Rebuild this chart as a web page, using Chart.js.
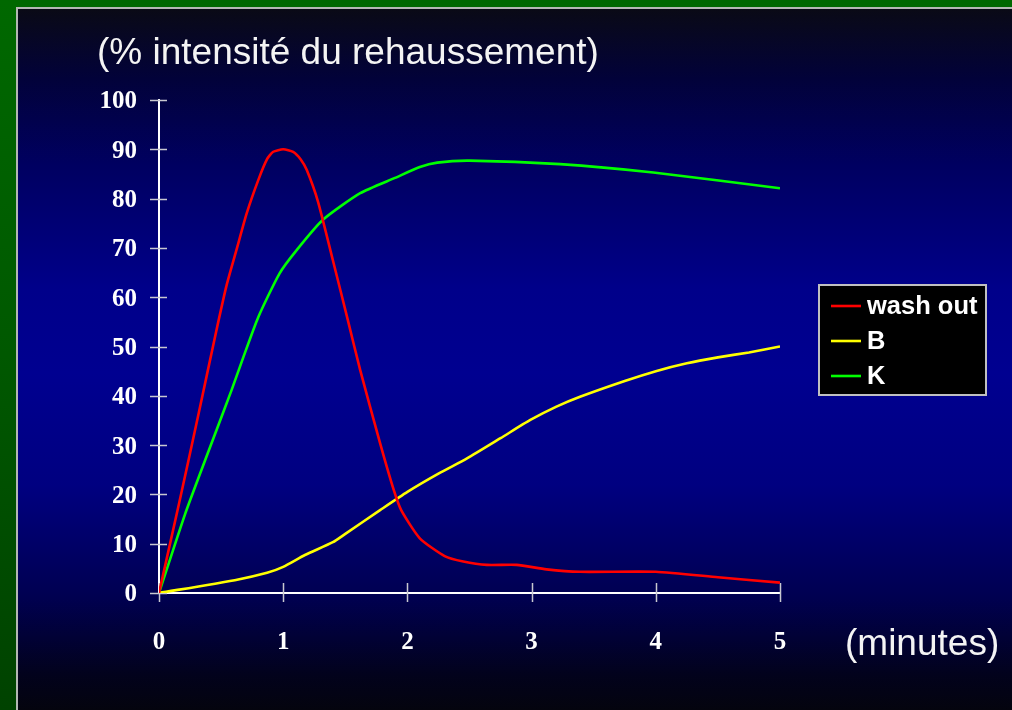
<!DOCTYPE html>
<html>
<head>
<meta charset="utf-8">
<script src="https://cdn.jsdelivr.net/npm/chart.js@4/dist/chart.umd.min.js"></script>
<style>
  html, body { margin: 0; padding: 0; }
  body {
    width: 1012px; height: 710px; overflow: hidden; position: relative;
    background: linear-gradient(to bottom, #006800 0%, #005800 50%, #004200 100%);
  }
  #panel {
    position: absolute; left: 16px; top: 7px; right: 0; bottom: 0;
    border-left: 2px solid #b4b8b4; border-top: 2px solid #b4b8b4;
    background: linear-gradient(to bottom,
      #0a0a16 0%, #02023a 10%, #000060 22%, #00008a 40%, #000090 52%,
      #000080 68%, #000050 84%, #02021c 95%, #04040e 100%);
  }
  #chart { position: absolute; left: 0; top: 0; }
</style>
</head>
<body>
<div id="panel"></div>
<canvas id="chart" width="1012" height="710"></canvas>
<script>
// Enhancement curves: time in minutes, enhancement intensity in %
const washOutMin = [0, 0.16, 0.32, 0.46, 0.545, 0.626, 0.706, 0.8, 0.87, 0.92, 1.0, 1.08, 1.14, 1.19, 1.28, 1.4, 1.52, 1.62, 1.78, 1.89, 1.95, 2.1, 2.3, 2.45, 2.64, 2.88, 3.12, 3.39, 4.0, 4.5, 5.0];
const washOutPct = [0, 18, 36.5, 53, 62.5, 69.8, 77, 83.8, 88, 89.5, 90, 89.5, 88, 85.8, 79.4, 67.5, 55.4, 45.2, 30.4, 20.9, 16.8, 11.1, 7.5, 6.4, 5.7, 5.7, 4.8, 4.3, 4.3, 3.2, 2.1];

const bMin = [0, 0.61, 0.87, 1.0, 1.175, 1.4, 1.5, 1.78, 2.0, 2.25, 2.48, 2.75, 2.99, 3.2, 3.39, 3.75, 4.0, 4.25, 4.5, 4.75, 5.0];
const bPct = [0, 2.6, 4.1, 5.3, 7.7, 10.3, 12, 16.8, 20.5, 24.2, 27.3, 31.4, 35.1, 37.8, 39.8, 43, 45, 46.6, 47.8, 48.8, 50];

const kMin = [0, 0.21, 0.41, 0.585, 0.68, 0.8, 0.97, 1.11, 1.32, 1.62, 1.9, 2.1, 2.24, 2.5, 3.23, 3.98, 5.0];
const kPct = [0, 16, 29.5, 41.2, 47.9, 56, 64.8, 69.6, 75.7, 81.1, 84.2, 86.4, 87.3, 87.7, 87, 85.3, 82.1];

const seriesNames = ['wash out', 'B', 'K'];
const seriesColors = ['#ff0000', '#ffff00', '#00ff00'];
const xTicks = [0, 1, 2, 3, 4, 5];
const yTicks = [0, 10, 20, 30, 40, 50, 60, 70, 80, 90, 100];

const yTitle = '(% intensité du rehaussement)';
const xTitle = '(minutes)';

const toPoints = (xs, ys) => xs.map((x, i) => ({ x: x, y: ys[i] }));

const seriesData = [
  toPoints(washOutMin, washOutPct),
  toPoints(bMin, bPct),
  toPoints(kMin, kPct)
];

const datasets = seriesNames.map((name, i) => ({
  label: name,
  data: seriesData[i],
  borderColor: seriesColors[i],
  backgroundColor: seriesColors[i],
  borderWidth: 2.6,
  pointRadius: 0,
  fill: false,
  tension: 0.2
}));

// Tick marks that cross the axis lines
const crossTicks = {
  id: 'crossTicks',
  beforeDatasetsDraw(chart) {
    const ctx = chart.ctx;
    const xs = chart.scales.x, ys = chart.scales.y;
    ctx.save();
    ctx.strokeStyle = '#c8c8d0';
    ctx.lineWidth = 1.5;
    ctx.beginPath();
    yTicks.forEach(v => {
      const py = Math.round(ys.getPixelForValue(v)) + 0.5;
      ctx.moveTo(xs.left - 9, py);
      ctx.lineTo(xs.left + 8, py);
    });
    xTicks.forEach(v => {
      const px = Math.round(xs.getPixelForValue(v)) + 0.5;
      ctx.moveTo(px, ys.bottom - 10);
      ctx.lineTo(px, ys.bottom + 9);
    });
    ctx.stroke();
    ctx.restore();
  }
};

// Axis titles and boxed legend
const annotations = {
  id: 'annotations',
  afterDraw(chart) {
    const ctx = chart.ctx;
    ctx.save();
    ctx.fillStyle = '#f4f4f4';
    ctx.font = '37px "Liberation Sans", Arial, sans-serif';
    ctx.textBaseline = 'alphabetic';
    ctx.textAlign = 'left';
    ctx.fillText(yTitle, 97, 64);
    ctx.fillText(xTitle, 845, 655);

    // legend box
    const bx = 819, by = 285, bw = 167, bh = 110;
    ctx.fillStyle = '#000000';
    ctx.fillRect(bx, by, bw, bh);
    ctx.strokeStyle = '#c0c0c0';
    ctx.lineWidth = 2;
    ctx.strokeRect(bx, by, bw, bh);

    ctx.font = 'bold 25.5px "Liberation Sans", Arial, sans-serif';
    ctx.textBaseline = 'middle';
    chart.data.datasets.forEach((ds, i) => {
      const ly = 306 + i * 35;
      ctx.strokeStyle = ds.borderColor;
      ctx.lineWidth = 2.6;
      ctx.beginPath();
      ctx.moveTo(831, ly);
      ctx.lineTo(861, ly);
      ctx.stroke();
      ctx.fillStyle = '#ffffff';
      ctx.fillText(ds.label, 867, ly + 1);
    });
    ctx.restore();
  }
};

const tickFont = { family: '"Liberation Serif", "Times New Roman", serif', size: 25, weight: 'bold' };

new Chart(document.getElementById('chart'), {
  type: 'line',
  data: { datasets: datasets },
  options: {
    responsive: false,
    animation: false,
    devicePixelRatio: 1,
    layout: { padding: { left: 0, top: 100, right: 232, bottom: 0 } },
    plugins: { legend: { display: false }, tooltip: { enabled: false } },
    scales: {
      x: {
        type: 'linear',
        min: 0, max: 5,
        afterBuildTicks(scale) { scale.ticks = xTicks.map(v => ({ value: v })); },
        afterFit(scale) { scale.height = 117; },
        ticks: { color: '#ffffff', font: tickFont, padding: 35, maxRotation: 0 },
        grid: { display: false, drawTicks: false },
        border: { display: true, color: '#ffffff', width: 2 }
      },
      y: {
        type: 'linear',
        min: 0, max: 100,
        afterBuildTicks(scale) { scale.ticks = yTicks.map(v => ({ value: v })); },
        afterFit(scale) { scale.width = 159; },
        ticks: { color: '#ffffff', font: tickFont, padding: 22, labelOffset: 2 },
        grid: { display: false, drawTicks: false },
        border: { display: true, color: '#ffffff', width: 2 }
      }
    }
  },
  plugins: [crossTicks, annotations]
});
</script>
</body>
</html>
